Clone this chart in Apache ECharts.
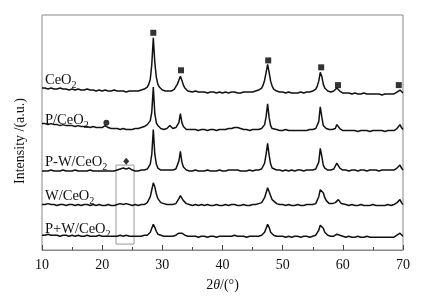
<!DOCTYPE html>
<html>
<head>
<meta charset="utf-8">
<script src="https://cdn.jsdelivr.net/npm/echarts@6/dist/echarts.min.js"></script>
<style>
  html, body { margin: 0; padding: 0; background: #fff; }
  #chart { width: 421px; height: 297px; }
</style>
</head>
<body>
<div id="chart"></div>
<script>
// 2θ sampling points (denser around the CeO2 reflections)
const twoTheta = [
  10, 10.5, 11, 11.5, 12, 12.5, 13, 13.5, 14, 14.5, 15, 15.5, 16, 16.5, 17, 17.5, 18, 18.5, 19, 19.5,
  20, 20.5, 21, 21.5, 22, 22.5, 23, 23.5, 24, 24.5, 25, 25.5, 26, 26.5, 27,
  27.25, 27.5, 27.75, 28, 28.25, 28.5, 28.75, 29, 29.25, 29.5, 29.75, 30, 30.25, 30.5, 30.75,
  31, 31.25, 31.5, 31.75, 32, 32.25, 32.5, 32.75, 33, 33.25, 33.5, 33.75, 34, 34.25, 34.5,
  35, 35.5, 36, 36.5, 37, 37.5, 38, 38.5, 39, 39.5, 40, 40.5, 41, 41.5, 42, 42.5, 43, 43.5, 44, 44.5,
  45, 45.5, 46, 46.5,
  46.75, 47, 47.25, 47.5, 47.75, 48, 48.25, 48.5,
  49, 49.5, 50, 50.5, 51, 51.5, 52, 52.5, 53, 53.5, 54, 54.5, 55, 55.5,
  55.75, 56, 56.25, 56.5, 56.75, 57, 57.25, 57.5, 57.75, 58, 58.25, 58.5, 58.75, 59, 59.25, 59.5, 59.75, 60,
  60.5, 61, 61.5, 62, 62.5, 63, 63.5, 64, 64.5, 65, 65.5, 66, 66.5, 67, 67.5, 68, 68.5,
  68.75, 69, 69.25, 69.5, 69.75, 70
]

// stacked intensities (a.u., already offset)
const ceo2 = [
  164, 164, 163, 164, 163, 163, 164, 163, 163, 162, 163, 162, 163, 162, 162, 163, 162, 162, 161, 162,
  161, 162, 161, 161, 162, 161, 161, 161, 160, 161, 161, 161, 161, 162, 163,
  164, 165, 168, 173, 188, 215, 190, 175, 168, 165, 164, 162, 162, 161, 161,
  161, 161, 161, 162, 163, 165, 168, 172, 176, 172, 167, 164, 162, 161, 161,
  160, 161, 160, 160, 160, 159, 160, 160, 159, 160, 159, 160, 159, 160, 160, 159, 159, 160, 160, 160,
  160, 161, 162, 164,
  167, 172, 180, 188, 180, 171, 166, 163,
  161, 160, 160, 159, 160, 159, 159, 159, 160, 159, 160, 160, 161, 163,
  166, 171, 180, 176, 168, 164, 162, 161, 160, 160, 160, 161, 162, 164, 163, 161, 160, 159,
  159, 159, 158, 159, 158, 158, 159, 158, 158, 158, 158, 158, 157, 158, 158, 158, 158,
  159, 160, 161, 162, 160, 159
]
const pCeo2 = [
  128, 128, 127, 128, 127, 127, 126, 127, 126, 126, 126, 125, 126, 125, 125, 125, 124, 125, 124, 124,
  124, 126, 124, 123, 123, 123, 122, 123, 122, 122, 122, 123, 123, 124, 125,
  126, 127, 127, 131, 140, 165, 138, 129, 126, 124, 123, 123, 122, 123, 123,
  124, 126, 124, 123, 123, 124, 125, 129, 138, 129, 125, 123, 122, 122, 122,
  122, 122, 121, 122, 122, 121, 122, 122, 121, 122, 122, 122, 123, 123, 124, 124, 123, 122, 122, 121,
  122, 122, 122, 123,
  124, 127, 135, 148, 134, 126, 123, 122,
  122, 121, 121, 122, 121, 121, 121, 121, 121, 121, 121, 122, 122, 123,
  125, 130, 145, 135, 126, 124, 123, 122, 122, 122, 122, 122, 123, 127, 125, 123, 122, 121,
  121, 121, 121, 121, 120, 121, 121, 121, 120, 121, 121, 121, 121, 120, 121, 121, 121,
  122, 123, 125, 127, 124, 122
]
const pwCeo2 = [
  80, 80, 80, 81, 80, 80, 80, 81, 80, 80, 80, 81, 80, 80, 80, 80, 81, 80, 80, 80,
  80, 80, 80, 80, 80, 81, 82, 83, 82, 83, 81, 80, 80, 81, 81,
  82, 82, 83, 87, 97, 122, 97, 87, 83, 82, 81, 81, 81, 80, 81,
  80, 81, 80, 81, 81, 82, 84, 90, 100, 89, 84, 82, 81, 81, 80,
  80, 81, 80, 80, 80, 81, 80, 80, 80, 81, 80, 80, 81, 81, 81, 81, 80, 80, 80, 81,
  80, 81, 81, 82,
  84, 88, 97, 108, 96, 87, 83, 82,
  81, 81, 80, 81, 80, 81, 80, 81, 81, 80, 81, 81, 81, 82,
  84, 89, 103, 95, 86, 83, 82, 81, 81, 81, 81, 82, 83, 88, 86, 83, 82, 81,
  81, 80, 81, 81, 80, 81, 81, 80, 81, 81, 81, 80, 81, 81, 81, 81, 81,
  82, 83, 85, 86, 83, 81
]
const wCeo2 = [
  46, 46, 47, 46, 46, 45, 46, 46, 45, 46, 46, 45, 46, 45, 46, 46, 45, 46, 45, 46,
  45, 45, 46, 45, 45, 46, 47, 46, 47, 46, 45, 46, 45, 46, 46,
  47, 48, 50, 54, 61, 68, 64, 57, 52, 50, 48, 47, 47, 46, 46,
  46, 46, 46, 46, 47, 47, 49, 52, 55, 53, 50, 48, 47, 46, 46,
  45, 46, 45, 46, 45, 46, 45, 45, 46, 45, 45, 46, 45, 46, 46, 45, 45, 46, 45, 45,
  46, 46, 47, 48,
  50, 53, 58, 63, 61, 55, 51, 49,
  47, 46, 46, 45, 46, 45, 45, 46, 45, 45, 46, 46, 46, 47,
  49, 54, 61, 63, 58, 53, 50, 48, 47, 47, 47, 47, 48, 50, 51, 49, 47, 46,
  46, 45, 46, 45, 45, 46, 45, 45, 45, 46, 45, 45, 45, 45, 46, 45, 46,
  46, 48, 50, 51, 48, 46
]
const pPlusWCeo2 = [
  15, 15, 16, 15, 15, 15, 14, 15, 15, 14, 15, 14, 15, 14, 14, 15, 14, 14, 14, 15,
  14, 14, 14, 14, 14, 14, 15, 14, 15, 14, 14, 14, 14, 14, 15,
  15, 15, 16, 18, 22, 26, 23, 19, 16, 15, 15, 14, 14, 14, 14,
  14, 14, 14, 14, 14, 15, 15, 17, 18, 17, 15, 15, 14, 14, 14,
  14, 14, 13, 14, 14, 13, 14, 14, 13, 14, 14, 14, 14, 14, 15, 14, 14, 14, 13, 14,
  14, 14, 14, 15,
  16, 18, 22, 26, 23, 18, 16, 15,
  14, 14, 14, 13, 14, 13, 14, 14, 13, 14, 14, 13, 14, 15,
  16, 20, 25, 26, 22, 18, 16, 15, 14, 14, 14, 14, 15, 16, 17, 15, 14, 14,
  13, 14, 13, 13, 14, 13, 13, 14, 13, 13, 13, 13, 13, 13, 13, 13, 13,
  14, 15, 16, 17, 15, 14
]

const sampleNames = ['CeO2', 'P/CeO2', 'P-W/CeO2', 'W/CeO2', 'P+W/CeO2']
const patterns = [ceo2, pCeo2, pwCeo2, wCeo2, pPlusWCeo2]

// phase markers: ■ CeO2, ● P species, ◆ W species
const squareMarks = [[28.5, 220], [33.1, 182], [47.6, 192], [56.4, 185], [59.2, 167], [69.3, 167]]
const circleMarks = [[20.7, 129]]
const diamondMarks = [[24.0, 90]]
// highlighted 2θ window
const boxRange = [[22.3, 6], [25.3, 86]]

const labelY = [80, 120, 162, 196, 229]

const serif = '"Liberation Serif", "Times New Roman", serif'
const chart = echarts.init(document.getElementById('chart'))

function sampleText(name) {
  // split trailing 2 into a subscript
  return '{m|' + name.slice(0, -1) + '}{s|2}'
}

const lineSeries = patterns.map((vals, i) => ({
  name: sampleNames[i],
  type: 'line',
  showSymbol: false,
  silent: true,
  lineStyle: { color: '#111', width: 1.5 },
  data: twoTheta.map((x, j) => [x, vals[j]]),
  markArea: i === 4 ? {
    silent: true,
    itemStyle: { color: 'rgba(0,0,0,0)', borderColor: '#999', borderWidth: 1 },
    data: [[{ coord: boxRange[0] }, { coord: boxRange[1] }]],
  } : undefined,
}))

const markerSeries = [
  { symbol: 'rect', symbolSize: 6, data: squareMarks },
  { symbol: 'circle', symbolSize: 6, data: circleMarks },
  { symbol: 'diamond', symbolSize: [6, 7], data: diamondMarks },
].map(s => ({ type: 'scatter', silent: true, itemStyle: { color: '#000' }, ...s }))

chart.setOption({
  animation: false,
  grid: { left: 42, right: 18, top: 15, bottom: 44, show: true, borderColor: '#888', borderWidth: 1 },
  xAxis: {
    type: 'value',
    min: 10,
    max: 70,
    interval: 10,
    axisLine: { lineStyle: { color: '#888' } },
    axisTick: { inside: true, length: 5, lineStyle: { color: '#444' } },
    minorTick: { show: true, splitNumber: 2, length: 3, lineStyle: { color: '#444' } },
    splitLine: { show: false },
    axisLabel: { color: '#111', fontFamily: serif, fontSize: 14, margin: 8 },
    name: '2{i|θ}/(°)',
    nameLocation: 'middle',
    nameGap: 28,
    nameTextStyle: {
      color: '#111', fontFamily: serif, fontSize: 14,
      rich: { i: { fontStyle: 'italic', fontFamily: serif, fontSize: 14, color: '#111' } },
    },
  },
  yAxis: {
    type: 'value',
    min: 0,
    max: 238,
    axisLine: { show: false },
    axisTick: { show: false },
    axisLabel: { show: false },
    splitLine: { show: false },
  },
  graphic: [
    {
      type: 'text',
      x: 20,
      y: 141,
      rotation: Math.PI / 2,
      style: {
        text: 'Intensity /(a.u.)',
        font: '14px ' + serif,
        fill: '#111',
        align: 'center',
        verticalAlign: 'middle',
      },
    },
    ...sampleNames.map((n, i) => ({
      type: 'text',
      x: 45,
      y: labelY[i],
      style: {
        text: sampleText(n),
        verticalAlign: 'middle',
        rich: {
          m: { fontFamily: serif, fontSize: 14.5, fill: '#111', lineHeight: 20, verticalAlign: 'middle' },
          s: { fontFamily: serif, fontSize: 10, fill: '#111', lineHeight: 20, verticalAlign: 'bottom' },
        },
      },
    })),
  ],
  series: [...lineSeries, ...markerSeries],
})
</script>
</body>
</html>
